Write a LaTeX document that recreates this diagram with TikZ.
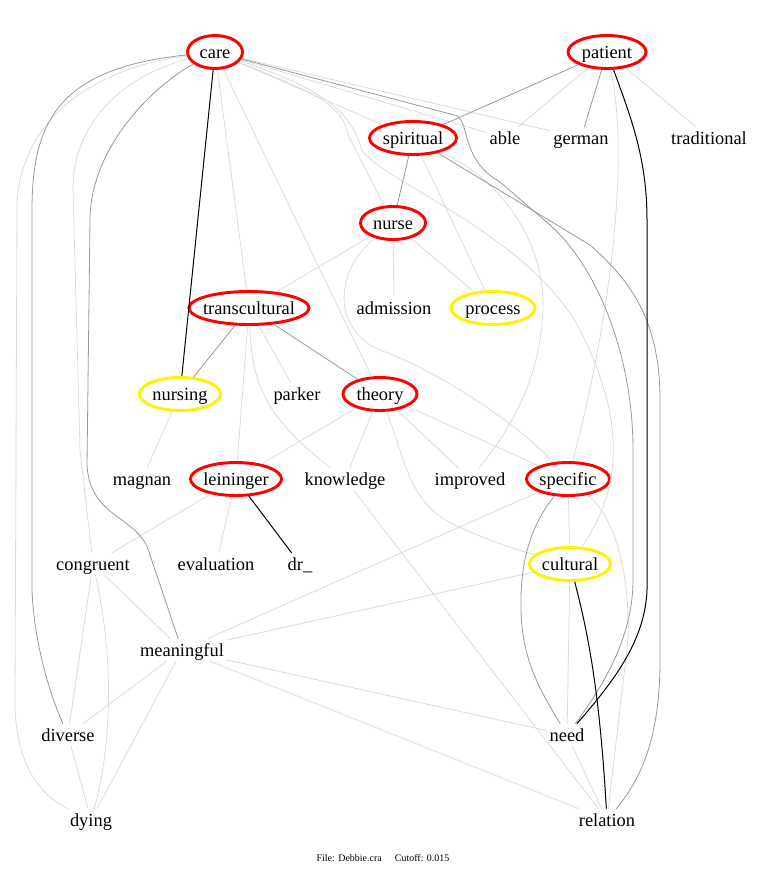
\documentclass[tikz,border=0pt]{standalone}
\usepackage{fontspec}
\setmainfont{Liberation Serif}
\usetikzlibrary{shapes.geometric}

\begin{document}
\begin{tikzpicture}[
    x=0.75pt, y=-0.75pt,
    word/.style={
        font=\fontsize{13.8pt}{16pt}\selectfont,
        text height=11pt,
        text depth=1.5pt,
        inner sep=2pt
    },
    hub/.style={
        word,
        ellipse,
        draw=red,
        line width=2.2pt,
        inner ysep=0pt,
        inner xsep=-3pt,
        minimum height=24.75pt,
        minimum width=#1*0.75pt
    },
    soft hub/.style={hub=#1, draw=yellow},
    weak link/.style={draw=black!14, line width=0.6pt},
    mid link/.style={draw=black!40, line width=0.6pt},
    strong link/.style={draw=black, line width=0.75pt}
]

\useasboundingbox (0,0) rectangle (765,873);

% Words, row by row
\node[hub=55] (care) at (215,52) {care};
\node[hub=78] (patient) at (607,52) {patient};

\node[hub=87] (spiritual) at (413,138) {spiritual};
\node[word] (able) at (505,138) {able};
\node[word] (german) at (581,138) {german};
\node[word] (traditional) at (709,138) {traditional};

\node[hub=65] (nurse) at (393,223) {nurse};

\node[hub=120] (transcultural) at (249,308) {transcultural};
\node[word] (admission) at (394,308) {admission};
\node[soft hub=84] (process) at (493,308) {process};

\node[soft hub=81] (nursing) at (180,394) {nursing};
\node[word] (parker) at (297,394) {parker};
\node[hub=74] (theory) at (380,394) {theory};

\node[word] (magnan) at (142,479) {magnan};
\node[hub=91] (leininger) at (236,479) {leininger};
\node[word] (knowledge) at (345,479) {knowledge};
\node[word] (improved) at (470,479) {improved};
\node[hub=83] (specific) at (568,479) {specific};

\node[word] (congruent) at (93,564) {congruent};
\node[word] (evaluation) at (216,564) {evaluation};
\node[word] (dr) at (300,564) {dr\_};
\node[soft hub=81] (cultural) at (570,564) {cultural};

\node[word] (meaningful) at (182,650) {meaningful};

\node[word] (diverse) at (68,735) {diverse};
\node[word] (need) at (567,735) {need};

\node[word] (dying) at (91,820) {dying};
\node[word] (relation) at (607,820) {relation};

% Footer
\node[font=\fontsize{7.5pt}{9pt}\selectfont] (footer) at (383,858) {File: Debbie.cra\hspace{1.3em}Cutoff: 0.015};

% Weak links
\draw[weak link] (care) -- (transcultural);
\draw[weak link] (care) -- (theory);
\draw[weak link] (care) -- (spiritual);
\draw[weak link] (care) -- (able);
\draw[weak link] (care) -- (german);
\draw[weak link] (care) .. controls (80,70) and (17,130) .. (17,210) -- (15,700) .. controls (15,765) and (40,795) .. (dying);
\draw[weak link] (care) .. controls (115,78) and (72,130) .. (73,190) -- (80,450) -- (congruent);
\draw[weak link] (care) .. controls (300,88) and (342,100) .. (348,135) -- (nurse);
\draw[weak link] (care) .. controls (340,95) and (352,120) .. (362,150) .. controls (380,180) and (530,235) .. (580,330) .. controls (620,410) and (628,480) .. (cultural);
\draw[weak link] (patient) -- (able);
\draw[weak link] (patient) -- (traditional);
\draw[weak link] (patient) .. controls (630,160) and (610,320) .. (specific);
\draw[weak link] (spiritual) -- (process);
\draw[weak link] (spiritual) .. controls (500,180) and (545,240) .. (543,310) .. controls (540,380) and (510,430) .. (improved);
\draw[weak link] (nurse) -- (transcultural);
\draw[weak link] (nurse) -- (admission);
\draw[weak link] (nurse) -- (process);
\draw[weak link] (nurse) .. controls (330,275) and (335,335) .. (385,352) .. controls (430,368) and (515,420) .. (specific);
\draw[weak link] (transcultural) -- (parker);
\draw[weak link] (transcultural) -- (leininger);
\draw[weak link] (transcultural) .. controls (252,380) and (262,415) .. (knowledge);
\draw[weak link] (nursing) -- (magnan);
\draw[weak link] (theory) -- (leininger);
\draw[weak link] (theory) -- (knowledge);
\draw[weak link] (theory) -- (improved);
\draw[weak link] (theory) -- (specific);
\draw[weak link] (theory) .. controls (405,460) and (410,505) .. (455,525) .. controls (480,537) and (510,548) .. (cultural);
\draw[weak link] (leininger) -- (congruent);
\draw[weak link] (leininger) -- (evaluation);
\draw[weak link] (knowledge) -- (relation);
\draw[weak link] (specific) -- (meaningful);
\draw[weak link] (specific) -- (cultural);
\draw[weak link] (specific) .. controls (618,520) and (630,580) .. (628,640) -- (relation);
\draw[weak link] (cultural) -- (meaningful);
\draw[weak link] (cultural) -- (need);
\draw[weak link] (meaningful) -- (need);
\draw[weak link] (meaningful) -- (relation);
\draw[weak link] (congruent) -- (meaningful);
\draw[weak link] (congruent) -- (diverse);
\draw[weak link] (congruent) .. controls (110,640) and (116,730) .. (dying);
\draw[weak link] (meaningful) -- (diverse);
\draw[weak link] (meaningful) -- (dying);
\draw[weak link] (diverse) -- (dying);
\draw[weak link] (need) -- (relation);

% Mid links
\draw[mid link] (patient) -- (spiritual);
\draw[mid link] (patient) -- (german);
\draw[mid link] (spiritual) -- (nurse);
\draw[mid link] (transcultural) -- (theory);
\draw[mid link] (transcultural) -- (nursing);
\draw[mid link] (care) .. controls (60,68) and (32,120) .. (32,210) -- (32,590) .. controls (34,640) and (48,690) .. (diverse);
\draw[mid link] (care) .. controls (150,88) and (90,150) .. (90,220) -- (87,465) .. controls (90,520) and (140,515) .. (150,555) -- (meaningful);
\draw[mid link] (care) -- (458,116) .. controls (470,128) and (462,160) .. (500,182) -- (550,225) .. controls (600,270) and (633,360) .. (633,450) -- (633,580) .. controls (633,640) and (600,690) .. (need);
\draw[mid link] (spiritual) -- (590,245) .. controls (630,280) and (660,320) .. (660,400) -- (660,660) .. controls (660,740) and (640,780) .. (relation);
\draw[mid link] (specific) .. controls (527,530) and (520,570) .. (521,610) .. controls (522,660) and (540,690) .. (need);

% Strong links
\draw[strong link] (care) -- (nursing);
\draw[strong link] (patient) .. controls (632,120) and (647,160) .. (647,220) -- (647,590) .. controls (645,640) and (615,680) .. (need);
\draw[strong link] (leininger) -- (dr);
\draw[strong link] (cultural) .. controls (590,640) and (600,700) .. (relation);

\end{tikzpicture}
\end{document}
